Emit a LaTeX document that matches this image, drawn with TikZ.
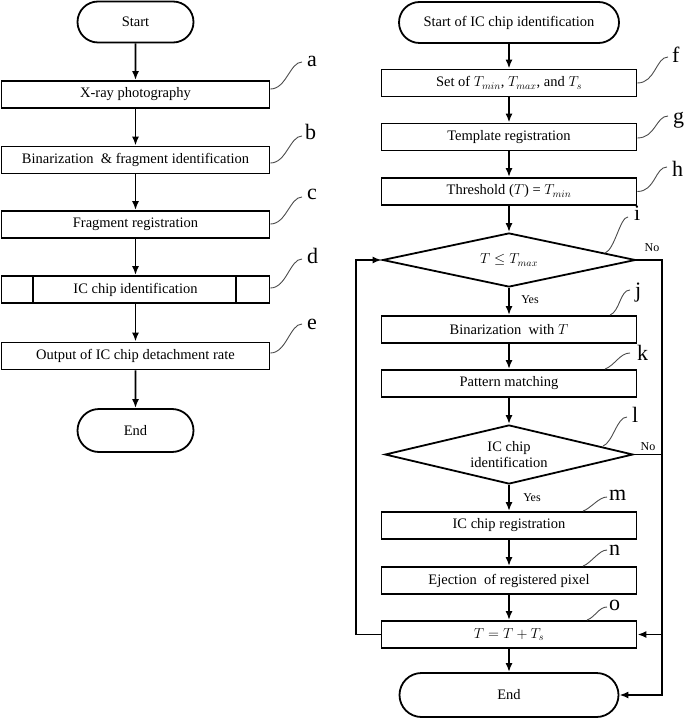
\documentclass[tikz,border=0pt]{standalone}
\usepackage{fontspec}
\setmainfont{Liberation Serif}
\usetikzlibrary{arrows.meta,shapes.geometric,shapes.misc}
\begin{document}
\begin{tikzpicture}[x=1pt,y=-1pt,
  txt/.style={font=\fontsize{14.5}{17}\selectfont},
  proc/.style={draw, line width=1.8pt, rectangle, minimum height=27pt, inner sep=0pt, txt},
  term/.style={draw, line width=1.8pt, rounded rectangle, inner sep=0pt, txt},
  dec/.style={draw, line width=1.8pt, diamond, inner sep=0pt, txt, align=center},
  arr/.style={-{Latex[length=9pt,width=7pt]}, line width=1.8pt},
  lead/.style={line width=0.9pt, draw=black!70},
  lbl/.style={font=\fontsize{22}{22}\selectfont, inner sep=0pt, anchor=base west},
  yn/.style={font=\fontsize{12}{12}\selectfont, inner sep=0pt}]
\useasboundingbox (0,0) rectangle (685,719);

% ---------- left column ----------
\node[term, minimum width=116pt, minimum height=41pt] (s1) at (135.5,22) {Start};
\node[proc, minimum width=268pt] (a1) at (135.5,94.5) {X-ray photography};
\node[proc, minimum width=268pt] (b1) at (135.5,160) {Binarization\ \ \& fragment identification};
\node[proc, minimum width=268pt] (c1) at (135.5,224.5) {Fragment registration};
\node[proc, minimum width=268pt] (d1) at (135.5,289.5) {IC chip identification};
\draw[line width=1.8pt] ([xshift=32.5pt]d1.north west) -- ([xshift=32.5pt]d1.south west);
\draw[line width=1.8pt] ([xshift=-34.5pt]d1.north east) -- ([xshift=-34.5pt]d1.south east);
\node[proc, minimum width=268pt] (e1) at (135.5,356) {Output of IC chip detachment rate};
\node[term, minimum width=116pt, minimum height=43pt] (f1) at (135.5,430.5) {End};

\draw[arr] (s1) -- (a1);
\draw[arr] (a1) -- (b1);
\draw[arr] (b1) -- (c1);
\draw[arr] (c1) -- (d1);
\draw[arr] (d1) -- (e1);
\draw[arr] (e1) -- (f1);

% ---------- right column ----------
\node[term, minimum width=220pt, minimum height=41pt] (rs) at (509,22.5) {Start of IC chip identification};
\node[proc, minimum width=255pt] (f) at (509,83) {Set of $T_{min}$, $T_{max}$, and $T_s$};
\node[proc, minimum width=255pt] (g) at (509,137) {Template registration};
\node[proc, minimum width=255pt] (h) at (509,191.5) {Threshold ($T$) = $T_{min}$};
\node[dec, minimum width=253pt, minimum height=54pt, shape aspect=4.7] (i) at (509,260) {$T \leq T_{max}$};
\node[proc, minimum width=255pt] (j) at (509,329.5) {Binarization\ \ with $T$};
\node[proc, minimum width=255pt] (k) at (509,383.5) {Pattern matching};
\node[dec, minimum width=248pt, minimum height=59pt, shape aspect=4.2, font=\fontsize{14.5}{16}\selectfont] (l) at (509,454.5) {IC chip\\identification};
\node[proc, minimum width=255pt] (m) at (509,525.5) {IC chip registration};
\node[proc, minimum width=255pt] (n) at (509,580.5) {Ejection\ \ of registered pixel};
\node[proc, minimum width=255pt] (o) at (509,634.5) {$T = T + T_s$};
\node[term, minimum width=219pt, minimum height=44pt] (re) at (509,695) {End};

\draw[arr] (rs) -- (f);
\draw[arr] (f) -- (g);
\draw[arr] (g) -- (h);
\draw[arr] (h) -- (i);
\draw[arr] (i) -- (j);
\draw[arr] (j) -- (k);
\draw[arr] (k) -- (l);
\draw[arr] (l) -- (m);
\draw[arr] (m) -- (n);
\draw[arr] (n) -- (o);
\draw[arr] (o) -- (re);

\coordinate (lx) at (356,0);
\coordinate (rx) at (662,0);
\draw[arr] (o.west) -- (o.west -| lx) -- (i.west -| lx) -- (i.west);
\draw[arr] (i.east) -- (i.east -| rx) -- (re.east -| rx) -- (re.east);
\draw[arr] (l.east) -- (l.east -| rx) -- (o.east -| rx) -- (o.east);

\node[yn] (y1) at (530,300) {Yes};
\node[yn] (y2) at (532,498) {Yes};
\node[yn] (n1) at (652,248) {No};
\node[yn] (n2) at (648,447) {No};

% ---------- leader curves and letters ----------
\coordinate (ea) at (302,62);
\coordinate (eb) at (302,136);
\coordinate (ec) at (302,197);
\coordinate (ed) at (302,259);
\coordinate (ee) at (302,324);
\coordinate (ef) at (668,57);
\coordinate (eg) at (668,116);
\coordinate (eh) at (667,167);
\coordinate (ei) at (628,217);
\coordinate (ej) at (630,290);
\coordinate (ek) at (630,353);
\coordinate (el) at (627,417);
\coordinate (em) at (607,497);
\coordinate (en) at (607,550);
\coordinate (eo) at (607,607);

\node[lbl] (La) at (307,67) {a};
\node[lbl] (Lb) at (305,140) {b};
\node[lbl] (Lc) at (307,200) {c};
\node[lbl] (Ld) at (307,263) {d};
\node[lbl] (Le) at (307,329) {e};
\node[lbl] (Lf) at (672,63) {f};
\node[lbl] (Lg) at (673,124) {g};
\node[lbl] (Lh) at (672,177) {h};
\node[lbl] (Li) at (634,220) {i};
\node[lbl] (Lj) at (635,297) {j};
\node[lbl] (Lk) at (637,360) {k};
\node[lbl] (Ll) at (632,422) {l};
\node[lbl] (Lm) at (609,500) {m};
\node[lbl] (Ln) at (609,555) {n};
\node[lbl] (Lo) at (609,610) {o};

\draw[lead] ([yshift=5.5pt]a1.east) .. controls +(16,0) and +(-12,0) .. (ea);
\draw[lead] ([yshift=-3pt]b1.east) .. controls +(16,0) and +(-12,0) .. (eb);
\draw[lead] ([yshift=0.5pt]c1.east) .. controls +(16,0) and +(-12,0) .. (ec);
\draw[lead] ([yshift=1.5pt]d1.east) .. controls +(16,0) and +(-12,0) .. (ed);
\draw[lead] ([yshift=3pt]e1.east) .. controls +(16,0) and +(-12,0) .. (ee);
\draw[lead] (f.east) .. controls +(18,0) and +(-12,0) .. (ef);
\draw[lead] ([yshift=-1pt]g.east) .. controls +(18,0) and +(-12,0) .. (eg);
\draw[lead] (h.east) .. controls +(18,0) and +(-12,0) .. (eh);
\draw[lead] ([xshift=96pt,yshift=-21pt]i.north) .. controls +(10,-4) and +(-8,0) .. (ei);
\draw[lead] ([xshift=101pt]j.north) .. controls +(10,-4) and +(-10,0) .. (ej);
\draw[lead] ([xshift=96pt]k.north) .. controls +(10,-4) and +(-10,0) .. (ek);
\draw[lead] ([xshift=94pt,yshift=-22pt]l.north) .. controls +(10,-4) and +(-10,0) .. (el);
\draw[lead] ([xshift=74pt]m.north) .. controls +(8,-3) and +(-8,0) .. (em);
\draw[lead] ([xshift=74pt]n.north) .. controls +(8,-3) and +(-8,0) .. (en);
\draw[lead] ([xshift=78pt]o.north) .. controls +(8,-3) and +(-8,0) .. (eo);
\end{tikzpicture}
\end{document}
